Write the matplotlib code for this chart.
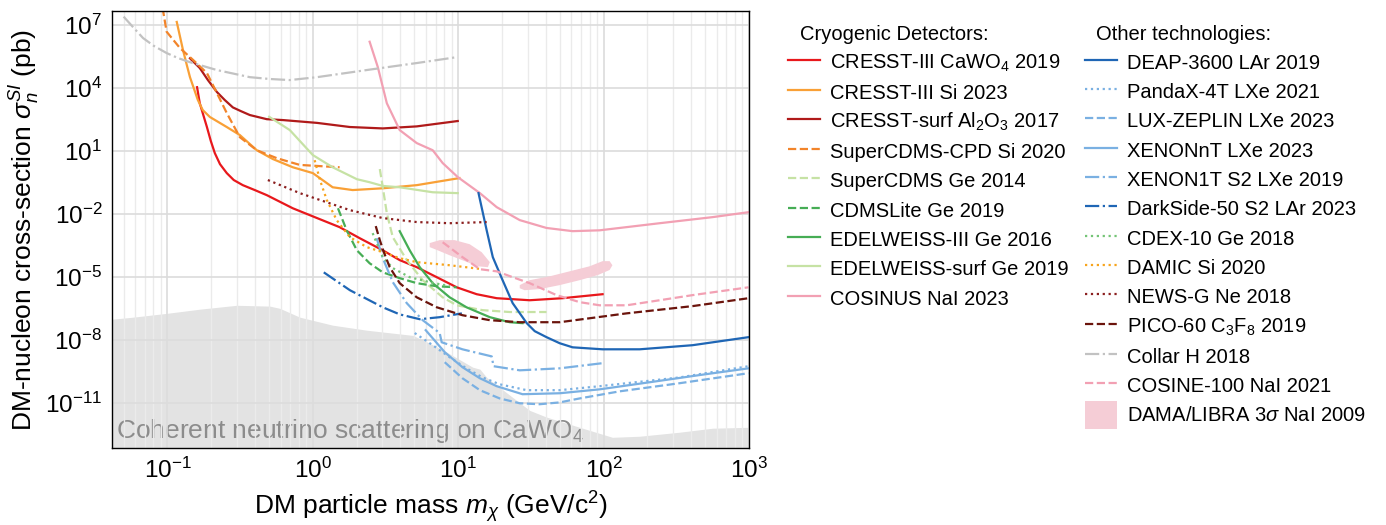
import numpy as np
import matplotlib
matplotlib.use("Agg")
import matplotlib.pyplot as plt
from matplotlib.ticker import FixedLocator, LogLocator, NullFormatter, FuncFormatter
from matplotlib.patches import Patch, Rectangle
from matplotlib.legend_handler import HandlerPatch

plt.rcParams['font.family'] = ['Liberation Sans', 'DejaVu Sans']
plt.rcParams['mathtext.fontset'] = 'custom'
plt.rcParams['mathtext.rm'] = 'Liberation Sans'
plt.rcParams['mathtext.it'] = 'Liberation Sans:italic'
plt.rcParams['mathtext.bf'] = 'Liberation Sans:bold'
plt.rcParams['mathtext.sf'] = 'Liberation Sans'

# ---------------- data (mass in GeV/c^2, cross-section in pb) ----------------
collar_m = [0.050, 0.058, 0.068, 0.081, 0.099, 0.118, 0.143, 0.219, 0.369, 0.506, 0.695, 1.07, 2.35, 5.19, 9.93]
collar_s = [2.5e7, 8.0e6, 2.4e6, 1.0e6, 4.6e5, 2.7e5, 1.7e5, 7.2e4, 3.3e4, 2.7e4, 2.4e4, 3.3e4, 7.2e4, 1.55e5, 3.0e5]

cpd_m = [0.0927, 0.0988, 0.122, 0.150, 0.187, 0.219, 0.256, 0.315, 0.412, 0.566, 0.814, 1.53]
cpd_s = [6.5e7, 4.8e6, 8.0e5, 2.2e5, 5.2e4, 5.8e3, 6.5e2, 46, 11, 4.6, 2.2, 1.7]

si_m = [0.116, 0.128, 0.136, 0.143, 0.162, 0.175, 0.196, 0.256, 0.315, 0.412, 0.531, 0.729, 1.0, 1.37, 1.88, 3.03, 5.19, 10.2]
si_s = [1.4e7, 6.5e5, 1.25e5, 3.3e4, 2.7e3, 9.0e2, 4.2e2, 1.4e2, 58, 11, 4.2, 1.7, 0.90, 0.19, 0.14, 0.17, 0.24, 0.52]

surf_m = [0.143, 0.167, 0.190, 0.219, 0.248, 0.282, 0.320, 0.369, 0.483, 0.622, 1.07, 1.80, 3.03, 5.19, 9.93]
surf_s = [2.6e5, 9.0e4, 2.4e4, 6.5e3, 2.7e3, 1.2e3, 8.0e2, 5.2e2, 3.3e2, 3.0e2, 2.2e2, 1.4e2, 1.2e2, 1.5e2, 2.7e2]

cawo_m = [0.160, 0.167, 0.187, 0.199, 0.212, 0.230, 0.256, 0.286, 0.330, 0.399, 0.483, 0.729, 1.07, 1.53,
          2.10, 3.03, 3.96, 5.19, 7.12, 9.77, 13.4, 18.4, 31.0, 52.3, 98.4]
cawo_s = [1.1e4, 1.9e3, 1.4e2, 30, 8.0, 2.4, 0.90, 0.42, 0.24, 0.14, 0.080, 0.019, 6.5e-3, 2.4e-3,
          7.2e-4, 1.9e-4, 6.5e-5, 3.0e-5, 1.0e-5, 3.3e-6, 1.55e-6, 1.0e-6, 8.0e-7, 1.0e-6, 1.55e-6]

esurf_m = [0.501, 0.695, 1.0, 1.37, 2.01, 2.46, 3.03, 3.96, 6.68, 9.93]
esurf_s = [4.3e2, 1.0e2, 6.5, 1.7, 0.46, 0.33, 0.22, 0.19, 0.11, 0.10]

newsg_m = [0.491, 0.814, 1.80, 3.03, 5.19, 8.74, 15.7]
newsg_s = [0.42, 0.10, 0.0155, 6.5e-3, 4.2e-3, 3.7e-3, 4.2e-3]

cosinus_m = [2.46, 2.80, 3.23, 3.96, 5.19, 6.68, 7.82, 9.93, 14.1, 18.4, 26.5, 40.5, 61.2, 93.9, 243, 561, 993]
cosinus_s = [1.6e6, 1.0e5, 1.9e3, 1.0e2, 24, 11, 2.7, 0.58, 0.10, 0.0215, 5.2e-3, 2.2e-3, 1.55e-3,
             1.7e-3, 3.7e-3, 7.2e-3, 0.0124]

cdms14_m = [2.89, 3.03, 3.23, 3.55, 4.43, 5.70, 7.82, 9.77, 14.7, 22.6, 40.5]
cdms14_s = [1.4, 0.19, 0.011, 8.0e-4, 6.5e-5, 7.2e-6, 1.1e-6, 4.6e-7, 2.7e-7, 2.2e-7, 2.2e-7]

damic_m = [1.03, 1.12, 1.25, 1.46, 1.80, 2.35, 3.03, 3.96, 5.19, 8.74, 14.7]
damic_s = [3.7, 0.42, 0.046, 5.2e-3, 8.0e-4, 2.7e-4, 1.55e-4, 8.0e-5, 5.2e-5, 3.7e-5, 2.4e-5]

lite_m = [1.49, 1.71, 2.01, 2.46, 3.03, 3.96, 5.19, 7.12, 9.77]
lite_s = [0.019, 1.7e-3, 1.9e-4, 4.6e-5, 1.7e-5, 9.0e-6, 5.2e-6, 3.7e-6, 3.3e-6]

ed3_m = [3.96, 4.64, 5.44, 6.68, 8.74, 11.4, 16.5, 22.6, 27.7]
ed3_s = [1.55e-3, 1.9e-4, 3.0e-5, 5.2e-6, 1.1e-6, 3.7e-7, 1.25e-7, 7.2e-8, 6.5e-8]

cdex_m = [2.58, 2.75, 3.03, 3.55, 4.64, 6.37, 8.74]
cdex_s = [1.25e-3, 4.2e-4, 9.0e-5, 2.7e-5, 1.0e-5, 5.8e-6, 3.7e-6]

pico_m = [2.71, 2.89, 3.08, 3.38, 3.96, 5.19, 7.12, 10.7, 16.5, 26.5, 49.9, 144, 409, 993]
pico_s = [2.7e-3, 5.8e-4, 1.55e-4, 3.0e-5, 5.2e-6, 1.1e-6, 3.7e-7, 1.55e-7, 9.0e-8, 7.2e-8,
          7.2e-8, 1.9e-7, 4.2e-7, 1.0e-6]

ds_m = [1.19, 1.80, 3.03, 3.96, 5.44, 7.46, 10.6]
ds_s = [1.7e-5, 2.4e-6, 3.7e-7, 1.7e-7, 1.0e-7, 1.25e-7, 1.9e-7]

deap_m = [13.8, 15.7, 17.3, 20.2, 23.7, 29.6, 33.6, 40.5, 49.9, 61.2, 98.4, 177, 409, 993]
deap_s = [0.10, 1.7e-3, 9.0e-5, 7.2e-6, 5.8e-7, 6.5e-8, 2.7e-8, 1.4e-8, 7.2e-9, 4.6e-9, 3.7e-9, 3.7e-9, 5.8e-9, 1.4e-8]

x1t_m = [2.75, 3.03, 3.55, 4.43, 5.70, 7.46, 7.70, 10.7, 17.0, 17.5, 26.5, 49.9, 96.9]
x1t_s = [7.2e-4, 8.0e-5, 5.8e-6, 5.8e-7, 9.0e-8, 2.2e-8, 8.0e-9, 3.7e-9, 1.7e-9, 5.8e-10,
         3.7e-10, 4.6e-10, 8.0e-10]

xnt_m = [5.98, 8.08, 10.7, 14.1, 18.4, 27.7, 49.9, 93.9, 207, 457, 993]
xnt_s = [3.0e-8, 2.7e-9, 5.2e-10, 1.55e-10, 6.5e-11, 2.7e-11, 3.0e-11, 4.6e-11, 1.0e-10, 2.2e-10, 4.6e-10]

pandax_m = [5.02, 6.68, 8.74, 11.4, 14.7, 19.3, 29.6, 49.9, 93.9, 333, 993]
pandax_s = [2.2e-8, 5.8e-9, 1.55e-9, 4.6e-10, 1.7e-10, 8.0e-11, 4.2e-11, 4.2e-11, 6.5e-11, 1.7e-10, 5.8e-10]

lz_m = [8.08, 10.7, 14.1, 19.3, 26.5, 36.3, 49.9, 68.4, 129, 333, 993]
lz_s = [9.0e-10, 1.55e-10, 4.2e-11, 1.7e-11, 1.0e-11, 9.0e-12, 1.1e-11, 1.7e-11, 3.7e-11, 9.0e-11, 2.7e-10]

cosine_m = [7.82, 10.7, 14.1, 18.4, 23.7, 31.0, 47.5, 68.4, 93.9, 144, 243, 409, 993]
cosine_s = [4.6e-4, 9.0e-5, 2.4e-5, 1.9e-5, 1.0e-5, 5.2e-6, 1.4e-6, 6.5e-7, 4.6e-7, 4.6e-7, 8.0e-7, 1.4e-6, 3.3e-6]

dama_na_m = [6.37, 7.46, 9.46, 12.0, 14.5, 16.5, 16.0, 13.6, 11.1, 8.74, 7.23, 6.37]
dama_na_s = [4.2e-4, 5.8e-4, 5.8e-4, 3.7e-4, 1.55e-4, 5.2e-5, 3.0e-5, 3.3e-5, 5.8e-5, 1.1e-4, 1.9e-4, 2.7e-4]
dama_i_m = [26.5, 31.0, 42.6, 58.4, 80.1, 98.4, 110, 115, 110, 91.0, 68.4, 49.9, 36.3, 28.6, 26.5]
dama_i_s = [4.2e-6, 7.2e-6, 1.1e-5, 1.9e-5, 3.3e-5, 5.8e-5, 5.8e-5, 3.7e-5, 2.2e-5, 1.25e-5, 7.2e-6,
            4.2e-6, 2.7e-6, 2.4e-6, 3.0e-6]

nu_m = [0.0416, 0.058, 0.099, 0.167, 0.300, 0.506, 0.593, 0.814, 1.37, 2.35, 4.87, 6.37, 8.34,
        12.6, 14.1, 15.7, 23.7, 31.0, 40.5, 68.4, 115, 177, 333, 561, 1000]
nu_s = [1.0e-7, 1.25e-7, 1.9e-7, 3.0e-7, 4.6e-7, 4.2e-7, 3.3e-7, 1.25e-7, 5.2e-8, 3.0e-8, 1.7e-8,
        7.2e-9, 2.7e-9, 5.2e-10, 4.2e-10, 1.7e-10, 1.9e-11, 4.6e-12, 2.2e-12, 7.2e-13, 2.4e-13,
        2.7e-13, 4.2e-13, 6.5e-13, 7.2e-13]

y_ticks = [1e-11, 1e-8, 1e-5, 1e-2, 1e1, 1e4, 1e7]

# ---------------- styles ----------------
RED = '#e8181c'
ORANGE = '#f9a036'
DKRED = '#b01a1a'
ORANGE_D = '#f2842a'
LTGREEN = '#c6e2a4'
GREEN = '#46ad55'
PINK = '#f2a0b3'
BLUE = '#1f66b5'
LTBLUE = '#7ab0e2'
CDEXG = '#74c476'
DAMIC_O = '#f7a41c'
NEWSG = '#8b1f1f'
PICO = '#6b140c'
GRAY = '#c2c2c2'
DAMA = '#f5cdd6'

cryo = [
    (cawo_m, cawo_s, RED, '-', 'CRESST-III CaWO$_4$ 2019'),
    (si_m, si_s, ORANGE, '-', 'CRESST-III Si 2023'),
    (surf_m, surf_s, DKRED, '-', 'CRESST-surf Al$_2$O$_3$ 2017'),
    (cpd_m, cpd_s, ORANGE_D, '--', 'SuperCDMS-CPD Si 2020'),
    (cdms14_m, cdms14_s, LTGREEN, '--', 'SuperCDMS Ge 2014'),
    (lite_m, lite_s, GREEN, '--', 'CDMSLite Ge 2019'),
    (ed3_m, ed3_s, GREEN, '-', 'EDELWEISS-III Ge 2016'),
    (esurf_m, esurf_s, LTGREEN, '-', 'EDELWEISS-surf Ge 2019'),
    (cosinus_m, cosinus_s, PINK, '-', 'COSINUS NaI 2023'),
]
other = [
    (deap_m, deap_s, BLUE, '-', 'DEAP-3600 LAr 2019'),
    (pandax_m, pandax_s, LTBLUE, ':', 'PandaX-4T LXe 2021'),
    (lz_m, lz_s, LTBLUE, '--', 'LUX-ZEPLIN LXe 2023'),
    (xnt_m, xnt_s, LTBLUE, '-', 'XENONnT LXe 2023'),
    (x1t_m, x1t_s, LTBLUE, '-.', 'XENON1T S2 LXe 2019'),
    (ds_m, ds_s, BLUE, '-.', 'DarkSide-50 S2 LAr 2023'),
    (cdex_m, cdex_s, CDEXG, ':', 'CDEX-10 Ge 2018'),
    (damic_m, damic_s, DAMIC_O, ':', 'DAMIC Si 2020'),
    (newsg_m, newsg_s, NEWSG, ':', 'NEWS-G Ne 2018'),
    (pico_m, pico_s, PICO, '--', 'PICO-60 C$_3$F$_8$ 2019'),
    (collar_m, collar_s, GRAY, '-.', 'Collar H 2018'),
    (cosine_m, cosine_s, PINK, '--', 'COSINE-100 NaI 2021'),
]

W, H = 1386, 525
fig = plt.figure(figsize=(W / 100, H / 100), dpi=100)
ax = fig.add_axes([112 / W, 1 - 448.3 / H, (749 - 112) / W, (448.3 - 10.7) / H])
ax.set_xscale('log')
ax.set_yscale('log')
ax.set_xlim(0.0416, 1000)
ax.set_ylim(7.2e-14, 4.8e7)

# neutrino floor
ax.fill_between(nu_m, nu_s, 1e-20, color='#e3e3e3', lw=0, zorder=0.3)
ax.text(0.0445, 2.3e-13, 'Coherent neutrino scattering on CaWO$_4$', color='#8c8c8c',
        fontsize=19, ha='left', va='baseline', zorder=0.35)

# DAMA regions
ax.fill(dama_na_m, dama_na_s, color=DAMA, lw=0, zorder=1.5)
ax.fill(dama_i_m, dama_i_s, color=DAMA, lw=0, zorder=1.5)

handles_l, labels_l, handles_r, labels_r = [], [], [], []
for m, s, c, ls, lab in cryo:
    ln, = ax.plot(m, s, color=c, ls=ls, lw=1.6, zorder=2)
    handles_l.append(ln)
    labels_l.append(lab)
for m, s, c, ls, lab in other:
    ln, = ax.plot(m, s, color=c, ls=ls, lw=1.6, zorder=2)
    handles_r.append(ln)
    labels_r.append(lab)
handles_r.append(Patch(facecolor=DAMA, edgecolor='none'))
labels_r.append('DAMA/LIBRA 3$\\sigma$ NaI 2009')

# grid / ticks
ax.set_axisbelow(True)
ax.xaxis.set_major_locator(LogLocator(base=10, numticks=20))
ax.xaxis.set_minor_locator(LogLocator(base=10, subs=np.arange(2, 10), numticks=20))
ax.xaxis.set_minor_formatter(NullFormatter())
ax.yaxis.set_major_locator(FixedLocator(y_ticks))
ax.yaxis.set_minor_locator(FixedLocator([]))
fmt = FuncFormatter(lambda v, p: '$10^{%d}$' % int(round(np.log10(v))))
ax.xaxis.set_major_formatter(fmt)
ax.yaxis.set_major_formatter(fmt)
ax.grid(True, which='major', color='#dcdcdc', lw=1.2)
ax.grid(True, which='minor', axis='x', color='#ebebeb', lw=1.0)
ax.tick_params(which='both', length=0, labelsize=17.5, pad=7)
for sp in ax.spines.values():
    sp.set_color('black')
    sp.set_linewidth(1.0)

ax.set_xlabel('DM particle mass $m_\\chi$ (GeV/c$^2$)', fontsize=19, labelpad=4)
ax.set_ylabel('DM-nucleon cross-section $\\sigma_n^{SI}$ (pb)', fontsize=19, labelpad=2)


def tall_patch(legend, orig_handle, xdescent, ydescent, width, height, fontsize):
    h2 = 1.4 * fontsize
    return Rectangle((-xdescent, -ydescent + height / 2 - h2 / 2), width, h2)


# legends
common = dict(loc='upper left', frameon=False, fontsize=14.5, handlelength=1.6,
              handletextpad=0.5, handleheight=1.35, labelspacing=0.335,
              borderpad=0, borderaxespad=0,
              handler_map={Patch: HandlerPatch(patch_func=tall_patch)})
fig.legend(handles_l, labels_l, bbox_to_anchor=(788 / W, 1 - 50.5 / H), **common)
fig.legend(handles_r, labels_r, bbox_to_anchor=(1085 / W, 1 - 50.5 / H), **common)
fig.text(800 / W, 1 - 35 / H, 'Cryogenic Detectors:', fontsize=14.5, ha='left', va='center')
fig.text(1096 / W, 1 - 35 / H, 'Other technologies:', fontsize=14.5, ha='left', va='center')

fig.savefig('out.png', dpi=100)
